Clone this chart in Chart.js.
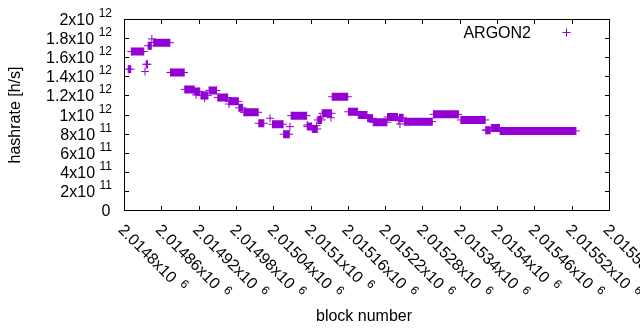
<!DOCTYPE html>
<html><head><meta charset="utf-8">
<script src="https://cdn.jsdelivr.net/npm/chart.js@4/dist/chart.umd.min.js"></script>
<style>html,body{margin:0;padding:0;background:#fff}canvas{display:block}</style>
</head><body>
<canvas id="c" width="640" height="330"></canvas>
<script>
const seriesName = 'ARGON2';
const xTitle = 'block number';
const yTitle = 'hashrate [h/s]';

// runs of consecutive blocks that share one hashrate value
const segStart = [2014806, 2014811, 2014835, 2014838, 2014847, 2014874, 2014897, 2014913, 2014923, 2014936,
                  2014950, 2014968, 2014984, 2014992, 2015016, 2015038, 2015056, 2015068, 2015094, 2015102,
                  2015111, 2015118, 2015134, 2015160, 2015176, 2015191, 2015200, 2015223, 2015242, 2015250,
                  2015297, 2015341, 2015381, 2015390, 2015404];
const segEnd   = [2014810, 2014831, 2014837, 2014843, 2014873, 2014896, 2014912, 2014921, 2014934, 2014948,
                  2014966, 2014983, 2014990, 2015015, 2015024, 2015055, 2015065, 2015093, 2015101, 2015110,
                  2015117, 2015133, 2015159, 2015175, 2015190, 2015199, 2015222, 2015239, 2015248, 2015295,
                  2015337, 2015380, 2015388, 2015403, 2015526];
const segValue = [1.48e12, 1.664e12, 1.531e12, 1.725e12, 1.757e12, 1.445e12, 1.268e12, 1.247e12, 1.203e12, 1.257e12,
                  1.184e12, 1.143e12, 1.075e12, 1.028e12, 0.913e12, 0.903e12, 0.799e12, 0.993e12, 0.88e12, 0.854e12,
                  0.948e12, 1.018e12, 1.191e12, 1.034e12, 1.0e12, 0.966e12, 0.924e12, 0.979e12, 0.97e12, 0.930e12,
                  1.007e12, 0.948e12, 0.84e12, 0.865e12, 0.833e12];

// single scattered blocks
const ptBlock = [2014833, 2014844, 2014915, 2014929, 2014968, 2015034, 2015066, 2015094, 2015109, 2015115,
                 2015132, 2015241, 2015243, 2015382];
const ptValue = [1.455e12, 1.797e12, 1.211e12, 1.177e12, 1.115e12, 0.966e12, 0.878e12, 0.896e12, 0.889e12, 0.966e12,
                 0.972e12, 0.94e12, 0.906e12, 0.844e12];

const xTickValues = [2014800, 2014860, 2014920, 2014980, 2015040, 2015100, 2015160, 2015220, 2015280, 2015340, 2015400, 2015460, 2015520, 2015580];
const xTickMantissa = ['2.0148', '2.01486', '2.01492', '2.01498', '2.01504', '2.0151', '2.01516', '2.01522', '2.01528', '2.01534', '2.0154', '2.01546', '2.01552', '2.01558'];
const xTickExponent = '6';
const yTickValues = [0, 2e11, 4e11, 6e11, 8e11, 1e12, 1.2e12, 1.4e12, 1.6e12, 1.8e12, 2e12];
const yTickMantissa = ['0', '2', '4', '6', '8', '1', '1.2', '1.4', '1.6', '1.8', '2'];
const yTickExponent = ['', '11', '11', '11', '11', '12', '12', '12', '12', '12', '12'];

const purple = '#9400D3';
const FONT = '"Liberation Sans", Arial, sans-serif';

const runData = [];
segStart.forEach((s, i) => {
  runData.push({x: s, y: segValue[i]});
  runData.push({x: segEnd[i], y: segValue[i]});
  runData.push({x: segEnd[i], y: null});
});
const pointData = ptBlock.map((b, i) => ({x: b, y: ptValue[i]}));

const decor = {
  id: 'decor',
  afterDraw(chart) {
    const ctx = chart.ctx, a = chart.chartArea;
    const xs = chart.scales.x, ys = chart.scales.y;
    ctx.save();
    ctx.strokeStyle = '#000';
    ctx.lineWidth = 1;
    ctx.beginPath();
    ctx.moveTo(a.left, a.top); ctx.lineTo(a.right, a.top); ctx.lineTo(a.right, a.bottom);
    xTickValues.forEach(v => {
      const p = Math.round(xs.getPixelForValue(v) - 0.5) + 0.5;
      ctx.moveTo(p, a.bottom); ctx.lineTo(p, a.bottom - 4.5);
      ctx.moveTo(p, a.top); ctx.lineTo(p, a.top + 4.5);
    });
    yTickValues.forEach(v => {
      const p = Math.round(ys.getPixelForValue(v) - 0.5) + 0.5;
      ctx.moveTo(a.left, p); ctx.lineTo(a.left + 4.5, p);
      ctx.moveTo(a.right, p); ctx.lineTo(a.right - 4.5, p);
    });
    ctx.stroke();

    ctx.fillStyle = '#000';
    ctx.textBaseline = 'alphabetic';
    // y tick labels
    yTickValues.forEach((v, i) => {
      const p = ys.getPixelForValue(v);
      const m = yTickMantissa[i], e = yTickExponent[i];
      ctx.textAlign = 'left';
      if (e) {
        ctx.font = '12px ' + FONT;
        const ew = ctx.measureText(e).width;
        ctx.font = '16px ' + FONT;
        const mw = ctx.measureText(m + 'x10').width;
        const right = 112;
        const ex = right - ew;
        const mx = ex - 4.5 - mw;
        ctx.fillText(m + 'x10', mx, p + 5.5);
        ctx.font = '12px ' + FONT;
        ctx.fillText(e, ex, p - 2.5);
      } else {
        ctx.font = '16px ' + FONT;
        ctx.textAlign = 'right';
        ctx.fillText(m, 110.5, p + 5.5);
      }
    });
    // x tick labels, rotated
    xTickValues.forEach((v, i) => {
      const p = xs.getPixelForValue(v);
      ctx.save();
      ctx.translate(p, a.bottom);
      ctx.rotate(Math.PI / 4);
      ctx.textAlign = 'left';
      ctx.font = '16px ' + FONT;
      const t = xTickMantissa[i] + 'x10';
      const w = ctx.measureText(t).width;
      ctx.fillText(t, 9.4, 19.4);
      ctx.font = '12px ' + FONT;
      ctx.fillText(xTickExponent, 9.4 + w + 7, 13.5);
      ctx.restore();
    });
    // axis titles
    ctx.font = '16px ' + FONT;
    ctx.textAlign = 'center';
    ctx.fillText(xTitle, 364, 321);
    ctx.save();
    ctx.translate(20, (a.top + a.bottom) / 2);
    ctx.rotate(-Math.PI / 2);
    ctx.fillText(yTitle, 0, 0);
    ctx.restore();
    // legend
    ctx.textAlign = 'right';
    ctx.fillText(seriesName, 531, 37.5);
    ctx.strokeStyle = purple;
    ctx.beginPath();
    ctx.moveTo(562.5, 32.5); ctx.lineTo(570.5, 32.5);
    ctx.moveTo(566.5, 28.5); ctx.lineTo(566.5, 36.5);
    ctx.stroke();
    ctx.restore();
  }
};

new Chart(document.getElementById('c'), {
  type: 'line',
  data: {
    datasets: [
      {
        label: seriesName,
        data: runData,
        borderColor: purple,
        backgroundColor: purple,
        borderWidth: 8,
        borderCapStyle: 'butt',
        spanGaps: false,
        tension: 0,
        pointStyle: 'cross',
        pointRadius: 4,
        pointBorderWidth: 1,
        pointBorderColor: purple,
        pointBackgroundColor: purple
      },
      {
        label: seriesName + ' points',
        data: pointData,
        showLine: false,
        borderColor: purple,
        backgroundColor: purple,
        pointStyle: 'cross',
        pointRadius: 4,
        pointBorderWidth: 1,
        pointBorderColor: purple
      }
    ]
  },
  options: {
    responsive: false,
    animation: false,
    devicePixelRatio: 1,
    events: [],
    layout: { padding: { left: 124.5, top: 19.5, right: 30.5, bottom: 119.5 } },
    plugins: { legend: { display: false }, tooltip: { enabled: false } },
    scales: {
      x: {
        type: 'linear', min: 2014800, max: 2015580,
        ticks: { display: false, stepSize: 60 },
        grid: { display: true, drawOnChartArea: false, drawTicks: false },
        border: { display: true, color: '#000', width: 1 },
        title: { display: false }
      },
      y: {
        type: 'linear', min: 0, max: 2e12,
        ticks: { display: false, stepSize: 2e11 },
        grid: { display: true, drawOnChartArea: false, drawTicks: false },
        border: { display: true, color: '#000', width: 1 },
        title: { display: false }
      }
    }
  },
  plugins: [decor]
});
</script>
</body></html>
